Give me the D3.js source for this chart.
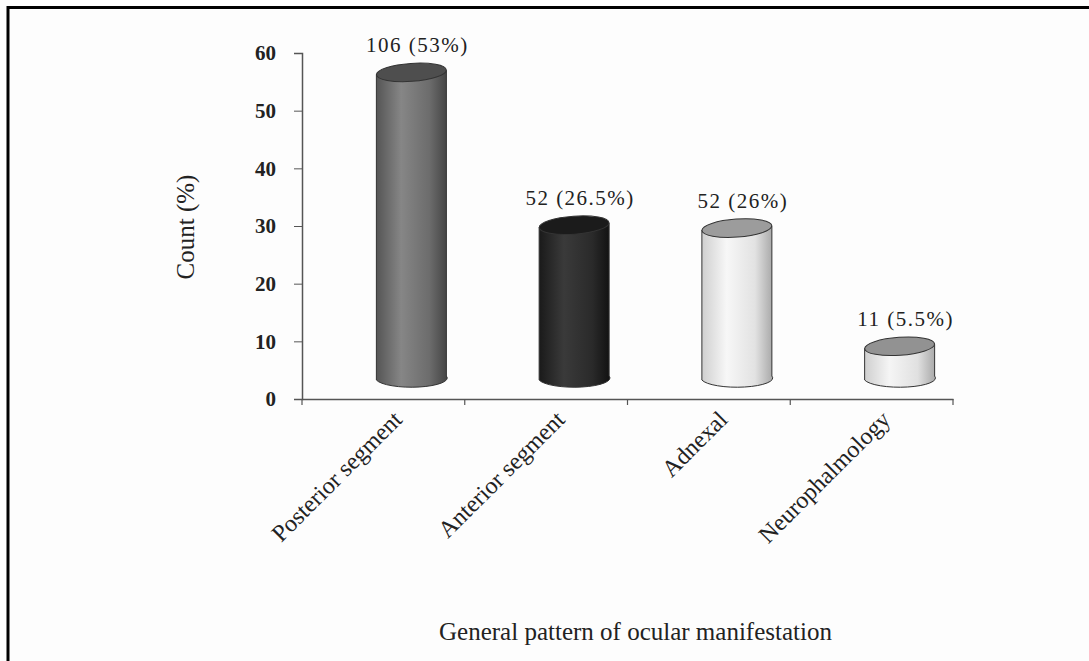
<!DOCTYPE html>
<html>
<head>
<meta charset="utf-8">
<script src="https://cdn.jsdelivr.net/npm/d3@7"></script>
<style>
  body { margin: 0; background: #fdfdfd; }
  text { font-family: "Liberation Serif", "DejaVu Serif", serif; fill: #222; }
</style>
</head>
<body>
<div id="chart"></div>
<script>
// 1: DATA
const categories = ["Posterior segment", "Anterior segment", "Adnexal", "Neurophalmology"];
const percents = [53, 26.5, 26, 5.5];
const counts = [106, 52, 52, 11];
const pctLabels = ["53%", "26.5%", "26%", "5.5%"];
const yTicks = [0, 10, 20, 30, 40, 50, 60];

// cylinder shading: [left edge, highlight, mid, right edge, top]
const shades = [
    ["#555", "#868686", "#6c6c6c", "#444", "#4e4e4e"],
    ["#1a1a1a", "#3a3a3a", "#2a2a2a", "#111", "#1b1b1b"],
    ["#cfcfcf", "#f7f7f7", "#e2e2e2", "#a8a8a8", "#9c9c9c"],
    ["#cfcfcf", "#f5f5f5", "#e0e0e0", "#a8a8a8", "#929292"]
];

// 2: SVG
const margin = { top: 53, right: 136, bottom: 262, left: 302 };
const width = 1089 - margin.left - margin.right;
const height = 661 - margin.top - margin.bottom;

const root = d3.select("#chart")
    .append("svg")
    .attr("width", 1089)
    .attr("height", 661);

// frame (top + left only)
root.append("path")
    .attr("d", "M8,661 L8,7.5 L1089,7.5")
    .attr("fill", "none")
    .attr("stroke", "#000")
    .attr("stroke-width", 3);

const svg = root.append("g")
    .attr("transform", `translate(${margin.left},${margin.top})`);

const defs = root.append("defs");

// 3: SCALES
const xScale = d3.scaleBand()
    .domain(categories)
    .range([0, width])
    .padding(0);

const yScale = d3.scaleLinear()
    .domain([0, 60])
    .range([height, 0]);

// 3D depth offset of the bars
const depthX = 28, depthY = -21;
const rx = 35, ry = 9;

// 4: AXES
svg.append("g")
    .attr("transform", `translate(0,${height})`)
    .call(d3.axisBottom(xScale).tickSize(0).tickFormat(""))
    .call(g => g.select(".domain").attr("stroke", "#555").attr("stroke-width", 1.5));

// category boundary ticks
const bounds = categories.map(c => xScale(c)).concat([width]);
svg.selectAll(".xtick")
    .data(bounds)
    .enter().append("line")
    .attr("x1", d => d).attr("x2", d => d)
    .attr("y1", height).attr("y2", height + 6)
    .attr("stroke", "#555")
    .attr("stroke-width", 1.2);

const yAxis = svg.append("g")
    .call(d3.axisLeft(yScale).tickValues(yTicks).tickSize(8).tickPadding(18));
yAxis.select(".domain").attr("stroke", "#555").attr("stroke-width", 1.5);
yAxis.selectAll(".tick line").attr("stroke", "#555");
yAxis.selectAll("text")
    .style("font-family", "'Liberation Serif', serif")
    .style("font-size", "21px")
    .style("font-weight", "bold")
    .attr("fill", "#333");

// x labels rotated
svg.selectAll(".xlabel")
    .data(categories)
    .enter().append("text")
    .attr("class", "xlabel")
    .attr("text-anchor", "end")
    .attr("transform", d => `translate(${xScale(d) + xScale.bandwidth() / 2 + 20},${height + 22}) rotate(-45)`)
    .style("font-size", "24px")
    .text(d => d);

// 5: CYLINDERS
categories.forEach((c, i) => {
    const cx = xScale(c) + xScale.bandwidth() / 2 + depthX;
    const yBot = yScale(0) + depthY;
    const yTop = yScale(percents[i]) + depthY;
    const s = shades[i];

    const grad = defs.append("linearGradient")
        .attr("id", "g" + i)
        .attr("x1", "0%").attr("x2", "100%").attr("y1", "0%").attr("y2", "0%");
    grad.append("stop").attr("offset", "0%").attr("stop-color", s[0]);
    grad.append("stop").attr("offset", "35%").attr("stop-color", s[1]);
    grad.append("stop").attr("offset", "75%").attr("stop-color", s[2]);
    grad.append("stop").attr("offset", "100%").attr("stop-color", s[3]);

    svg.append("path")
        .attr("d", `M${cx - rx},${yTop + 2} L${cx - rx},${yBot + 2} A${rx},${ry} 0 0 0 ${cx + rx},${yBot - 2} L${cx + rx},${yTop - 2} Z`)
        .attr("fill", `url(#g${i})`)
        .attr("stroke", "#333")
        .attr("stroke-width", 1);

    svg.append("ellipse")
        .attr("cx", cx).attr("cy", yTop)
        .attr("rx", rx).attr("ry", ry)
        .attr("transform", `rotate(-4,${cx},${yTop})`)
        .attr("fill", s[4])
        .attr("stroke", "#333")
        .attr("stroke-width", 1);

    // value label
    svg.append("text")
        .attr("x", cx + 6)
        .attr("y", yTop - 20)
        .attr("text-anchor", "middle")
        .style("font-size", "21px")
        .style("letter-spacing", "1.5px")
        .text(`${counts[i]} (${pctLabels[i]})`);
});

// 6: AXIS TITLES
svg.append("text")
    .attr("x", width / 2 + 8)
    .attr("y", height + 241)
    .attr("text-anchor", "middle")
    .style("font-size", "25px")
    .text("General pattern of ocular manifestation");

svg.append("text")
    .attr("transform", "rotate(-90)")
    .attr("x", -(227 - margin.top))
    .attr("y", 194 - margin.left)
    .attr("text-anchor", "middle")
    .style("font-size", "25px")
    .text("Count (%)");
</script>
</body>
</html>
